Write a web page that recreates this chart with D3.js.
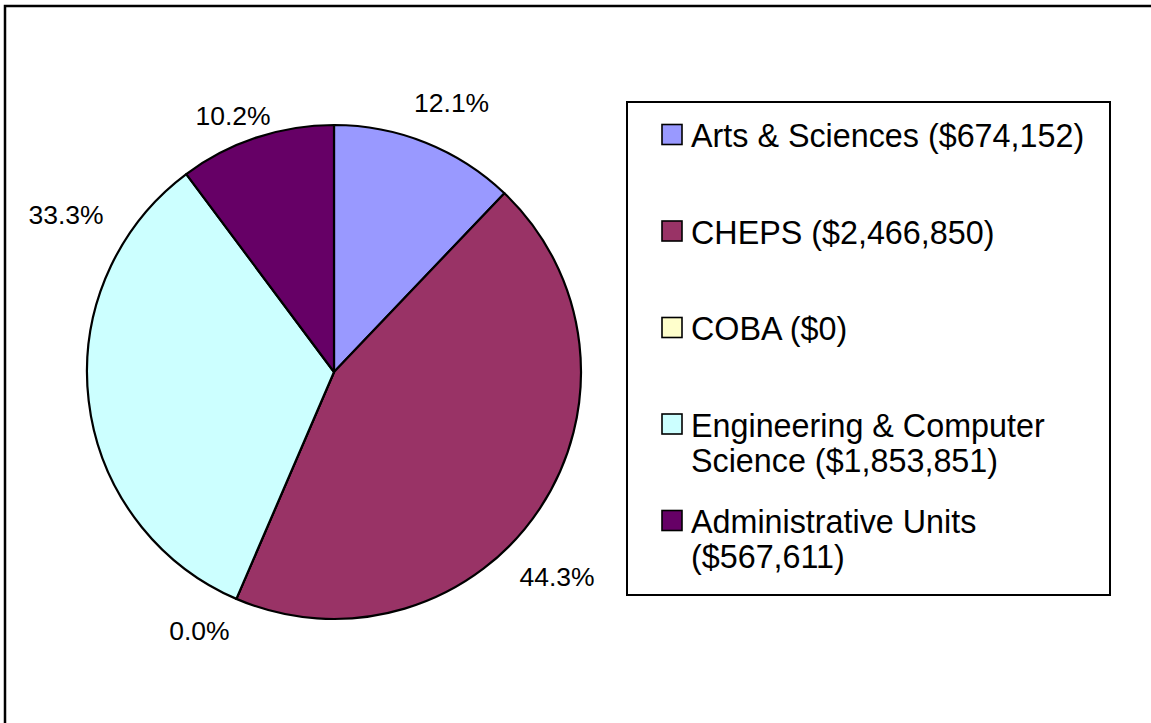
<!DOCTYPE html>
<html>
<head>
<meta charset="utf-8">
<script src="https://cdn.jsdelivr.net/npm/d3@7"></script>
<style>
  html, body { margin: 0; padding: 0; background: #fff; }
  svg { display: block; }
  text { font-family: "Liberation Sans", Arial, sans-serif; fill: #000; }
</style>
</head>
<body>
<svg id="chart" width="1151" height="723"></svg>
<script>
// ---- data ----
const categories = ["Arts & Sciences", "CHEPS", "COBA", "Engineering & Computer Science", "Administrative Units"];
const values = [674152, 2466850, 0, 1853851, 567611];
const legendLines = [
  ["Arts & Sciences ($674,152)"],
  ["CHEPS ($2,466,850)"],
  ["COBA ($0)"],
  ["Engineering & Computer", "Science ($1,853,851)"],
  ["Administrative Units", "($567,611)"]
];
const colors = ["#9999FF", "#993366", "#FFFFCC", "#CCFFFF", "#660066"];

// ---- layout ----
const W = 1151, H = 723;
const cx = 334, cy = 372, R = 247;
const labelR = 295;
const labelNudge = [[8, 4], [-23, 42], [-18, -13], [25, -192], [-8, 23]];

const svg = d3.select("#chart");

// outer chart frame (extends past the right/bottom edges)
svg.append("rect")
  .attr("x", 5).attr("y", 6)
  .attr("width", W + 20).attr("height", H + 20)
  .attr("fill", "#fff").attr("stroke", "#000").attr("stroke-width", 2.5);

const total = d3.sum(values);
const pie = d3.pie().sort(null).value(d => d);
const arcs = pie(values);
const arc = d3.arc().innerRadius(0).outerRadius(R);

const g = svg.append("g").attr("transform", `translate(${cx},${cy})`);
g.selectAll("path.slice")
  .data(arcs)
  .join("path")
  .attr("class", "slice")
  .attr("d", arc)
  .attr("fill", (d, i) => colors[i])
  .attr("stroke", "#000")
  .attr("stroke-width", 2.2)
  .attr("stroke-linejoin", "round");

const fmt = d3.format(".1%");
g.selectAll("text.pct")
  .data(arcs)
  .join("text")
  .attr("class", "pct")
  .attr("x", (d, i) => labelR * Math.sin((d.startAngle + d.endAngle) / 2) + labelNudge[i][0])
  .attr("y", (d, i) => -labelR * Math.cos((d.startAngle + d.endAngle) / 2) + labelNudge[i][1])
  .attr("dy", "0.36em")
  .attr("text-anchor", "middle")
  .style("font-size", "26.5px")
  .text(d => fmt(d.data / total));

// ---- legend ----
const lx = 627, ly = 102, lw = 483, lh = 493;
svg.append("rect")
  .attr("x", lx).attr("y", ly).attr("width", lw).attr("height", lh)
  .attr("fill", "#fff").attr("stroke", "#000").attr("stroke-width", 2);

const rowTop0 = 124, rowStep = 96.5, lineH = 35, capH = 23;
const leg = svg.append("g");
const items = leg.selectAll("g.item")
  .data(categories)
  .join("g")
  .attr("class", "item")
  .attr("transform", (d, i) => `translate(0,${rowTop0 + i * rowStep})`);

items.append("rect")
  .attr("x", 662).attr("y", 0.5)
  .attr("width", 20).attr("height", 20)
  .attr("fill", (d, i) => colors[i])
  .attr("stroke", "#000").attr("stroke-width", 1.6);

items.each(function (d, i) {
  const t = d3.select(this).append("text")
    .attr("x", 691)
    .style("font-size", "32.3px");
  legendLines[i].forEach((ln, k) => {
    t.append("tspan").attr("x", 691).attr("y", capH + k * lineH).text(ln);
  });
});
</script>
</body>
</html>
